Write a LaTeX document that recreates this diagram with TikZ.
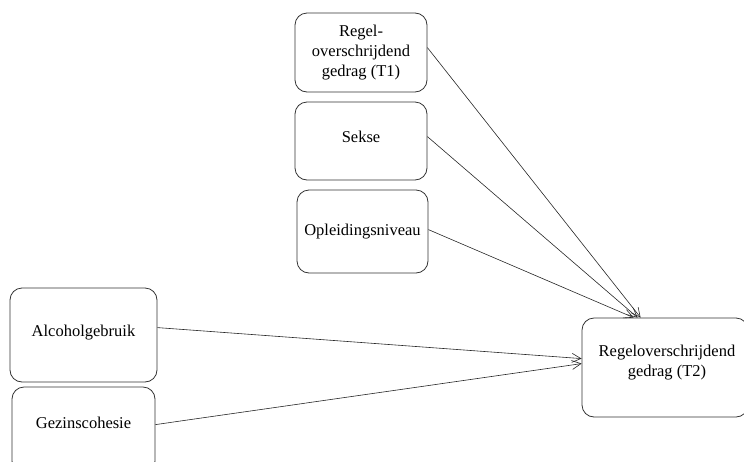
\documentclass[tikz,border=0pt]{standalone}
\usepackage{fontspec}
\setmainfont{Liberation Serif}
\usetikzlibrary{arrows.meta,calc}
\begin{document}
\begin{tikzpicture}[x=1pt,y=-1pt,
  box/.style={draw=black!80,line width=0.8pt,rounded corners=12pt,inner sep=0pt,
    align=center,font=\fontsize{16.5}{20}\selectfont,text=black},
  txt/.style={align=center,font=\fontsize{16.5}{20}\selectfont,text=black,inner sep=0pt},
  conn/.style={draw=black!85,line width=0.6pt,-{Straight Barb[length=9pt,width=9pt,line width=0.6pt]}}]
\clip (0,0) rectangle (744,461);
\useasboundingbox (0,0) rectangle (744,461);
\node[box,minimum width=132pt,minimum height=79pt] (t1) at (361,52.5) {Regel-\\overschrijdend\\gedrag (T1)};
\node[box,minimum width=132pt,minimum height=78pt,
  label={[txt,yshift=4pt]center:Sekse}] (sek) at (361,141) {};
\node[box,minimum width=131pt,minimum height=83pt] (opl) at (362.5,231.5) {Opleidingsniveau};
\node[box,minimum width=147pt,minimum height=94pt,
  label={[txt,yshift=2pt]center:Alcoholgebruik}] (alc) at (83.5,335) {};
\node[box,minimum width=143pt,minimum height=86pt,
  label={[txt,yshift=7pt]center:Gezinscohesie}] (gez) at (83.5,430) {};
\node[box,minimum width=166pt,minimum height=99pt,
  label={[txt,yshift=5pt,xshift=2pt]center:Regeloverschrijdend\\gedrag (T2)}] (t2) at (665,367.5) {};
\draw[conn] ($(t1.north east)+(0,35)$) -- ($(t2.north west)+(59,0)$);
\draw[conn] ($(sek.north east)+(0,35)$) -- ($(t2.north west)+(56,0)$);
\draw[conn] ($(opl.north east)+(0,40)$) -- ($(t2.north west)+(52,0)$);
\draw[conn] ($(alc.north east)+(0,40)$) -- ($(t2.north west)+(0,41)$);
\draw[conn] ($(gez.north east)+(0,38)$) -- ($(t2.north west)+(0,46)$);
\end{tikzpicture}
\end{document}
